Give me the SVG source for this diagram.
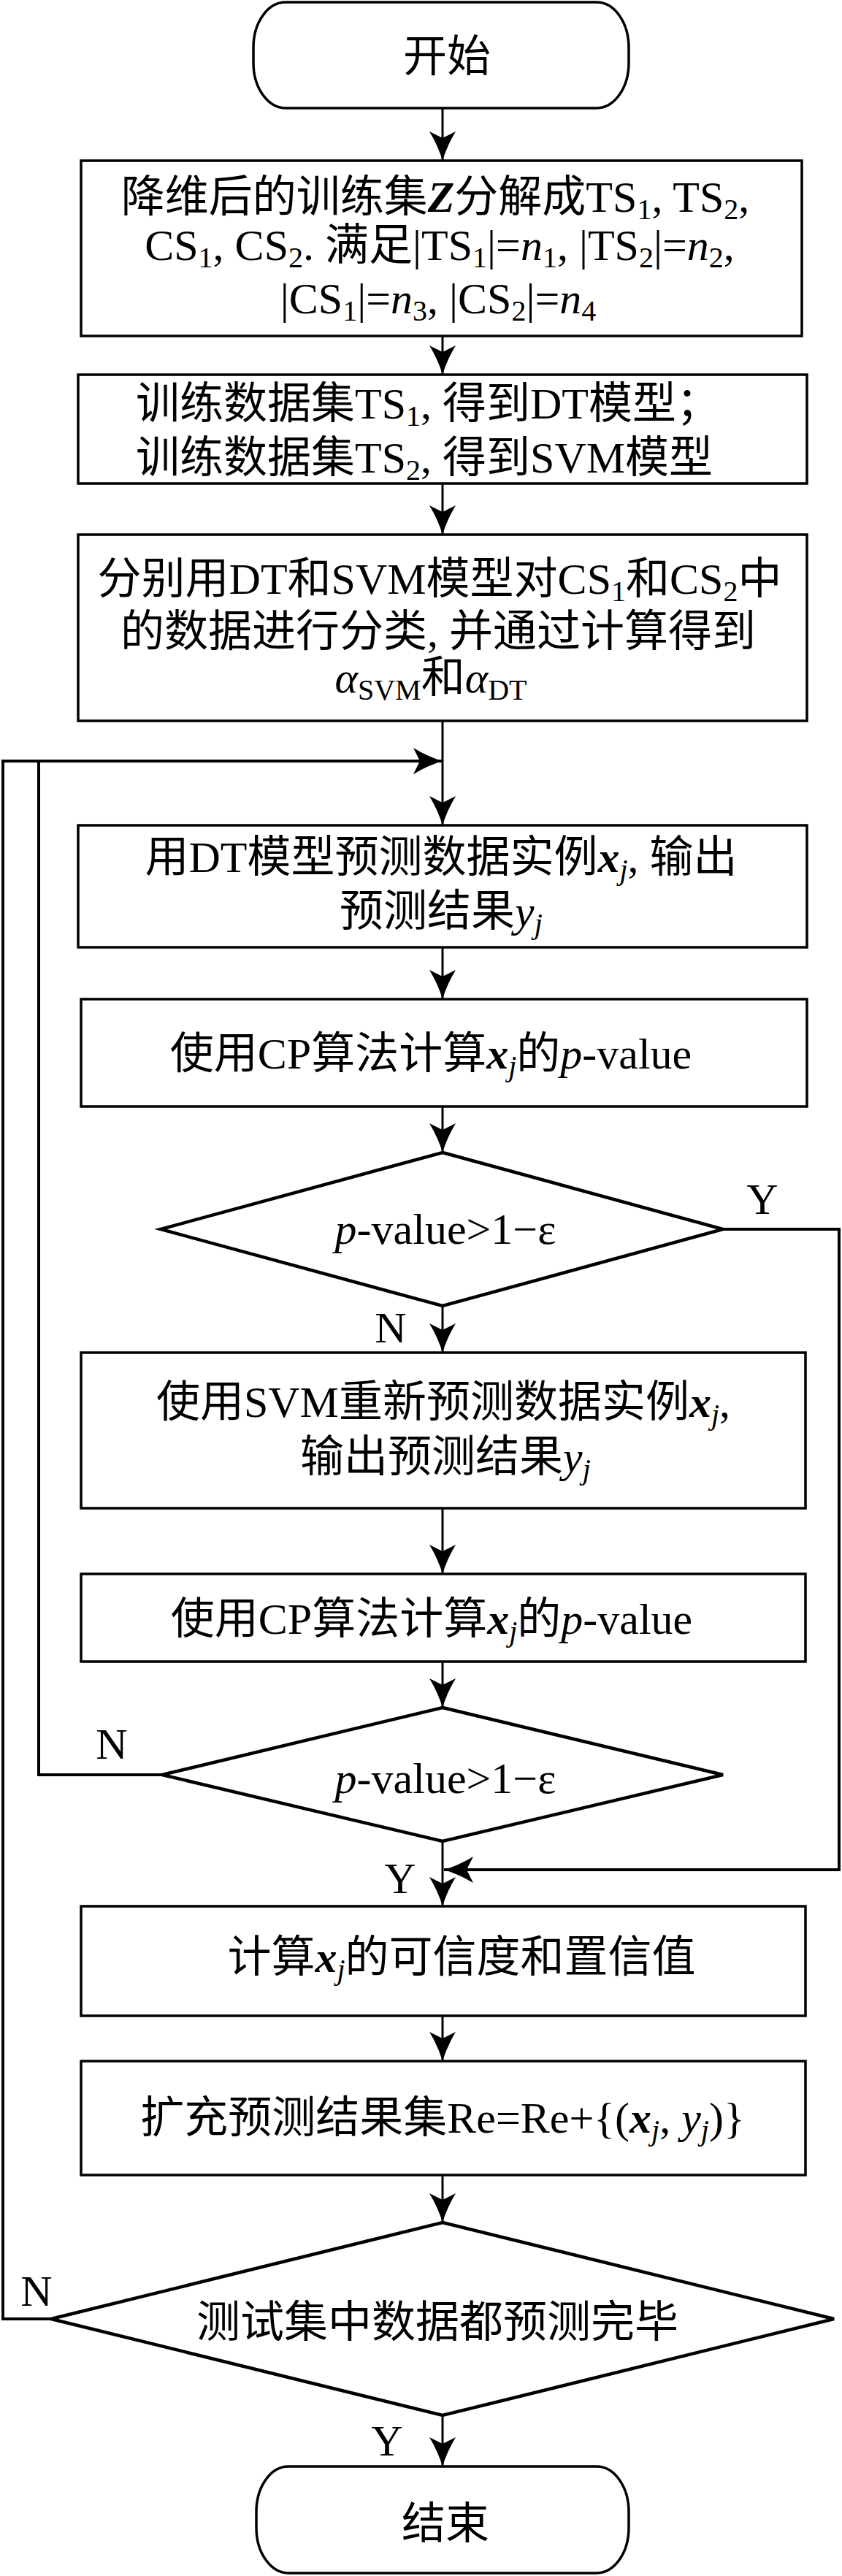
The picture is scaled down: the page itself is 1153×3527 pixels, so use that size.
<svg xmlns="http://www.w3.org/2000/svg" width="1153" height="3527" viewBox="0 0 1153 3527">
<style>
text{font-family:"Liberation Serif","Noto Sans CJK SC",serif;font-size:60px;fill:#000}
.m{text-anchor:middle}
.i{font-style:italic}
.bi{font-style:italic;font-weight:bold}
.s{font-size:40px}
.box{fill:#fff;stroke:#000;stroke-width:3.5}
.dia{fill:#fff;stroke:#000;stroke-width:4.5;stroke-linejoin:miter}
.ln{fill:none;stroke:#000;stroke-width:3}
.lp{fill:none;stroke:#000;stroke-width:4}
</style>
<defs>
<marker id="ah" viewBox="0 0 40 36" markerWidth="40" markerHeight="36" refX="40" refY="18" orient="auto" markerUnits="userSpaceOnUse">
<path d="M40,18 Q20,12 0,0 L9,18 L0,36 Q20,24 40,18 Z" fill="#000"/>
</marker>
</defs>
<g id="connectors">
<line class="ln" x1="606" y1="148" x2="606" y2="220" marker-end="url(#ah)"/>
<line class="ln" x1="606" y1="460" x2="606" y2="513" marker-end="url(#ah)"/>
<line class="ln" x1="606" y1="662" x2="606" y2="732" marker-end="url(#ah)"/>
<line class="ln" x1="606" y1="987" x2="606" y2="1130" marker-end="url(#ah)"/>
<polyline class="lp" points="70,3175 4,3175 4,1042 606,1042" marker-end="url(#ah)"/>
<polyline class="lp" points="222,2430 53,2430 53,1042"/>
<line class="ln" x1="606" y1="1297" x2="606" y2="1368" marker-end="url(#ah)"/>
<line class="ln" x1="606" y1="1515" x2="606" y2="1578" marker-end="url(#ah)"/>
<line class="ln" x1="606" y1="1788" x2="606" y2="1852" marker-end="url(#ah)"/>
<line class="ln" x1="606" y1="2065" x2="606" y2="2155" marker-end="url(#ah)"/>
<line class="ln" x1="606" y1="2275" x2="606" y2="2338" marker-end="url(#ah)"/>
<line class="ln" x1="606" y1="2521" x2="606" y2="2610" marker-end="url(#ah)"/>
<polyline class="lp" points="990,1683 1149,1683 1149,2560 608,2560" marker-end="url(#ah)"/>
<line class="ln" x1="606" y1="2760" x2="606" y2="2822" marker-end="url(#ah)"/>
<line class="ln" x1="606" y1="2978" x2="606" y2="3043" marker-end="url(#ah)"/>
<line class="ln" x1="606" y1="3307" x2="606" y2="3377" marker-end="url(#ah)"/>
</g>
<g id="labels">
<text class="m" x="1044" y="1662">Y</text>
<text class="m" x="535" y="1838">N</text>
<text class="m" x="153" y="2408">N</text>
<text class="m" x="548" y="2592">Y</text>
<text class="m" x="50" y="3157">N</text>
<text class="m" x="530" y="3362">Y</text>
</g>
<g id="start">
<rect x="347" y="3" width="514" height="145" rx="44" ry="62" class="box"/>
<text class="m" x="612" y="98">开始</text>
</g>
<g id="split">
<rect x="111" y="220" width="987" height="240" class="box"/>
<text class="m" x="596" y="290">降维后的训练集<tspan class="bi">Z</tspan>分解成TS<tspan class="s" dy="10">1</tspan><tspan dy="-10">, TS</tspan><tspan class="s" dy="10">2</tspan><tspan dy="-10">,</tspan></text>
<text class="m" x="602" y="356">CS<tspan class="s" dy="10">1</tspan><tspan dy="-10">, CS</tspan><tspan class="s" dy="10">2</tspan><tspan dy="-10">. 满足|TS</tspan><tspan class="s" dy="10">1</tspan><tspan dy="-10">|=</tspan><tspan class="i">n</tspan><tspan class="s" dy="10">1</tspan><tspan dy="-10">, |TS</tspan><tspan class="s" dy="10">2</tspan><tspan dy="-10">|=</tspan><tspan class="i">n</tspan><tspan class="s" dy="10">2</tspan><tspan dy="-10">,</tspan></text>
<text class="m" x="600" y="429">|CS<tspan class="s" dy="10">1</tspan><tspan dy="-10">|=</tspan><tspan class="i">n</tspan><tspan class="s" dy="10">3</tspan><tspan dy="-10">, |CS</tspan><tspan class="s" dy="10">2</tspan><tspan dy="-10">|=</tspan><tspan class="i">n</tspan><tspan class="s" dy="10">4</tspan></text>
</g>
<g id="train">
<rect x="107" y="513" width="998" height="149" class="box"/>
<text x="186" y="573">训练数据集TS<tspan class="s" dy="10">1</tspan><tspan dy="-10">, 得到DT模型；</tspan></text>
<text x="186" y="647">训练数据集TS<tspan class="s" dy="10">2</tspan><tspan dy="-10">, 得到SVM模型</tspan></text>
</g>
<g id="classify">
<rect x="107" y="732" width="998" height="255" class="box"/>
<text class="m" x="602" y="813">分别用DT和SVM模型对CS<tspan class="s" dy="10">1</tspan><tspan dy="-10">和CS</tspan><tspan class="s" dy="10">2</tspan><tspan dy="-10">中</tspan></text>
<text class="m" x="600" y="885">的数据进行分类, 并通过计算得到</text>
<text class="m" x="590" y="948"><tspan class="i">α</tspan><tspan class="s" dy="10">SVM</tspan><tspan dy="-10">和</tspan><tspan class="i">α</tspan><tspan class="s" dy="10">DT</tspan></text>
</g>
<g id="dtpredict">
<rect x="107" y="1130" width="998" height="167" class="box"/>
<text class="m" x="604" y="1194">用DT模型预测数据实例<tspan class="bi">x</tspan><tspan class="s i" dy="10">j</tspan><tspan dy="-10">, 输出</tspan></text>
<text class="m" x="604" y="1268">预测结果<tspan class="i">y</tspan><tspan class="s i" dy="10">j</tspan></text>
</g>
<g id="cp1">
<rect x="111" y="1368" width="994" height="147" class="box"/>
<text class="m" x="590" y="1463">使用CP算法计算<tspan class="bi">x</tspan><tspan class="s i" dy="10">j</tspan><tspan dy="-10">的</tspan><tspan class="i">p</tspan>-value</text>
</g>
<g id="decision1">
<polygon class="dia" points="606,1578 990,1683 606,1788 220,1683"/>
<text class="m" x="610" y="1703"><tspan class="i">p</tspan>-value&gt;1−ε</text>
</g>
<g id="svmpredict">
<rect x="111" y="1852" width="992" height="213" class="box"/>
<text class="m" x="607" y="1940">使用SVM重新预测数据实例<tspan class="bi">x</tspan><tspan class="s i" dy="10">j</tspan><tspan dy="-10">,</tspan></text>
<text class="m" x="610" y="2015">输出预测结果<tspan class="i">y</tspan><tspan class="s i" dy="10">j</tspan></text>
</g>
<g id="cp2">
<rect x="111" y="2155" width="992" height="120" class="box"/>
<text class="m" x="591" y="2237">使用CP算法计算<tspan class="bi">x</tspan><tspan class="s i" dy="10">j</tspan><tspan dy="-10">的</tspan><tspan class="i">p</tspan>-value</text>
</g>
<g id="decision2">
<polygon class="dia" points="606,2338 990,2430 606,2521 222,2430"/>
<text class="m" x="610" y="2455"><tspan class="i">p</tspan>-value&gt;1−ε</text>
</g>
<g id="confidence">
<rect x="111" y="2610" width="992" height="150" class="box"/>
<text class="m" x="632" y="2700">计算<tspan class="bi">x</tspan><tspan class="s i" dy="10">j</tspan><tspan dy="-10">的可信度和置信值</tspan></text>
</g>
<g id="extend">
<rect x="111" y="2822" width="992" height="156" class="box"/>
<text class="m" x="606" y="2920">扩充预测结果集Re=Re+{(<tspan class="bi">x</tspan><tspan class="s i" dy="10">j</tspan><tspan dy="-10">, </tspan><tspan class="i">y</tspan><tspan class="s i" dy="10">j</tspan><tspan dy="-10">)}</tspan></text>
</g>
<g id="decision3">
<polygon class="dia" points="606,3043 1142,3175 606,3307 70,3175"/>
<text class="m" x="599" y="3200">测试集中数据都预测完毕</text>
</g>
<g id="end">
<rect x="351" y="3377" width="510" height="146" rx="44" ry="62" class="box"/>
<text class="m" x="610" y="3476">结束</text>
</g>
</svg>
